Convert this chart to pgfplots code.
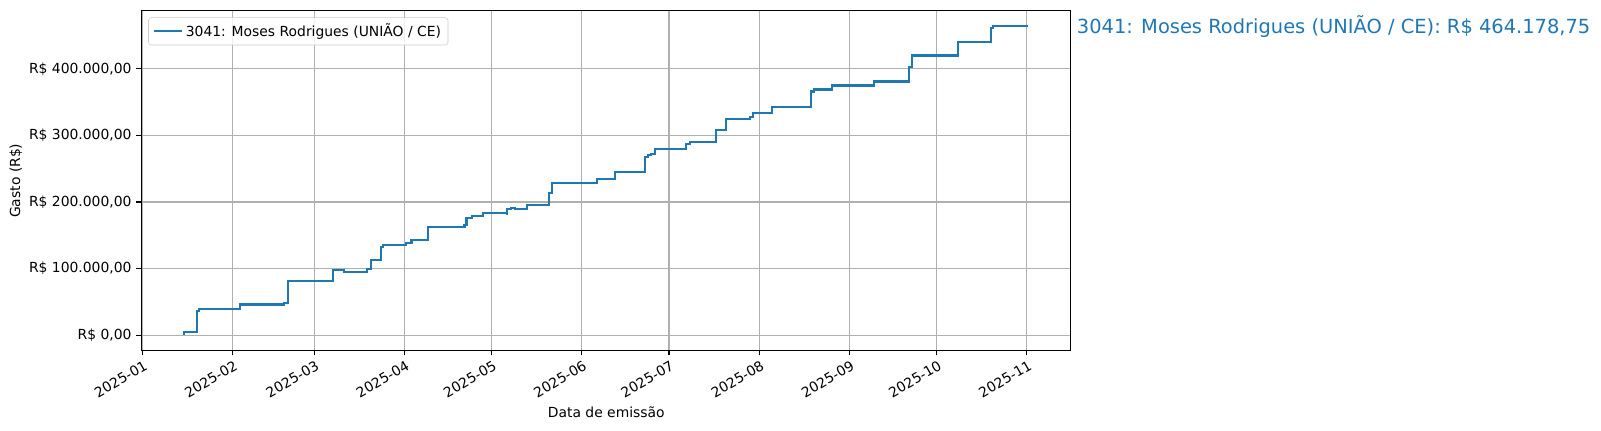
\documentclass[border=0pt]{standalone}
\usepackage{fontspec}
\setmainfont{DejaVu Sans}
\usepackage{pgfplots}
\pgfplotsset{compat=1.18}

\definecolor{tabblue}{HTML}{1F77B4}
\definecolor{gridgray}{HTML}{B0B0B0}

% x = dias desde 2025-01-01
\pgfplotstableread{
dia valor
14.1 1500
14.3 4500
18.7 36500
19.4 39500
33.6 46000
48.8 48500
49.9 81500
65.4 97500
69.4 94500
77.3 99500
78.5 112500
81.9 132500
82.8 135500
90.7 138500
92.5 142500
98.3 162500
110.7 165000
111.4 176500
113.3 178500
117.2 183500
125.2 181500
125.4 189000
126.7 191000
128.2 189500
132.2 195000
139.7 214000
140.8 228500
156.2 234500
162.5 245000
172.7 267500
173.7 270000
174.7 272000
176.2 279500
186.8 287500
188.2 289500
197.3 308000
200.7 324500
208.7 327000
209.9 333500
216.5 342500
229.7 366000
230.7 369000
237.0 375000
251.6 381000
263.6 403400
264.5 420000
280.3 440000
291.7 462000
292.5 464178.75
304.5 464178.75
}\gasto

\begin{document}
\begin{tikzpicture}
\path[use as bounding box] (-101.7pt,-57.2pt) rectangle (1051pt,252.4pt);
\begin{axis}[
    at={(0,0)}, anchor=south west,
    scale only axis,
    width=669pt, height=244.7pt,
    xmin=-0.4, xmax=319.0,
    ymin=-23209, ymax=487388,
    scaled y ticks=false,
    scaled x ticks=false,
    axis line style={line width=0.8pt},
    tick align=outside,
    major tick length=3.5pt,
    tick style={line width=0.8pt, black},
    xtick pos=bottom, ytick pos=left,
    xtick={0,31,59,90,120,151,181,212,243,273,304},
    xticklabels={2025-01,2025-02,2025-03,2025-04,2025-05,2025-06,2025-07,2025-08,2025-09,2025-10,2025-11},
    xticklabel style={rotate=30, anchor=north east, inner sep=1pt, yshift=-2pt, font=\fontsize{10}{12}\selectfont},
    ytick={0,100000,200000,300000,400000},
    yticklabels={{R\$ 0,00},{R\$ 100.000,00},{R\$ 200.000,00},{R\$ 300.000,00},{R\$ 400.000,00}},
    yticklabel style={font=\fontsize{10}{12}\selectfont},
    grid=major,
    major grid style={gridgray, line width=0.8pt},
    legend style={at={(0,1)}, anchor=north west, xshift=5pt, yshift=-4.8pt,
        draw=black!20, rounded corners=2pt, inner xsep=3pt, inner ysep=2.5pt,
        fill=white, fill opacity=0.8, text opacity=1,
        font=\fontsize{10}{12}\selectfont},
    legend cell align=left,
    legend image code/.code={\draw[#1] (0pt,0pt) -- (20.4pt,0pt);},
]
\addplot[const plot, tabblue, line width=1.5pt] table[x=dia, y=valor] {\gasto};
\addlegendentry{3041: Moses Rodrigues (UNIÃO / CE)}
\end{axis}
\node[rotate=90, font=\fontsize{10}{12}\selectfont] at (-90.2pt,122.3pt) {Gasto (R\$)};
\node[anchor=base, font=\fontsize{10}{12}\selectfont] at (334.8pt,-48.1pt) {Data de emissão};
\node[anchor=base west, inner sep=0pt, text=tabblue, font=\fontsize{14}{17}\selectfont] at (673.5pt,228.4pt) {3041: Moses Rodrigues (UNIÃO / CE): R\$ 464.178,75};
\end{tikzpicture}
\end{document}
